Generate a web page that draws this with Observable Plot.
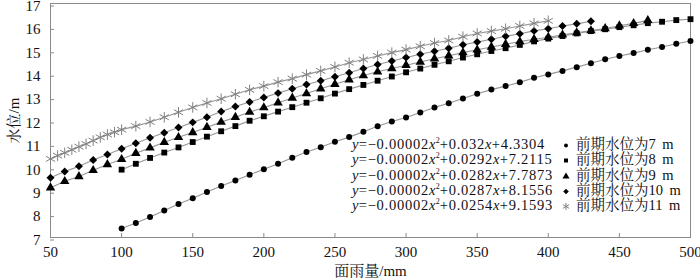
<!DOCTYPE html>
<html><head><meta charset="utf-8">
<script src="https://cdn.jsdelivr.net/npm/d3@7"></script>
<script src="https://cdn.jsdelivr.net/npm/@observablehq/plot@0.6"></script>
<style>
body{margin:0;background:#fff;}
#wrap{position:relative;width:700px;height:279px;}
#legend{position:absolute;left:352px;top:137px;font-family:'Liberation Serif','Noto Serif CJK SC',serif;font-size:14.5px;line-height:15.25px;color:#111;}
.row{position:relative;height:15.25px;white-space:nowrap;}
.eq{position:absolute;left:0;top:0;letter-spacing:0.75px;}
.eq i{letter-spacing:0.3px;}
.eq sup{font-size:8px;vertical-align:6px;line-height:0;letter-spacing:0;}
.mk{position:absolute;left:206px;top:1px;}
.lb{position:absolute;left:224px;top:0;font-family:'Liberation Serif','Noto Serif CJK SC',serif;font-size:14.5px;word-spacing:3px;}
</style>
</head><body>
<div id="wrap"><div id="chart"></div><div id="legend"></div></div>
<script>
// ---- data ----
const seriesNames = ["前期水位为7 m","前期水位为8 m","前期水位为9 m","前期水位为10 m","前期水位为11 m"];
const eqB = ["0.032","0.0292","0.0282","0.0287","0.0254"];
const eqC = ["4.3304","7.2115","7.7873","8.1556","9.1593"];

const x7 = [100,110,120,130,140,150,160,170,180,190,200,210,220,230,240,250,260,270,280,290,300,310,320,330,340,350,360,370,380,390,400,410,420,430,440,450,460,470,480,490,500];
const y7 = [7.38,7.62,7.88,8.15,8.43,8.68,8.94,9.20,9.44,9.68,9.92,10.15,10.41,10.65,10.86,11.09,11.29,11.52,11.75,11.96,12.13,12.34,12.56,12.74,12.94,13.14,13.32,13.47,13.63,13.83,13.97,14.12,14.28,14.45,14.62,14.76,14.88,15.02,15.14,15.28,15.40];

const x8 = [100,110,120,130,140,150,160,170,180,190,200,210,220,230,240,250,260,270,280,290,300,310,320,330,340,350,360,370,380,390,400,410,420,430,440,450,460,470,480,490,500];
const y8 = [9.90,10.15,10.40,10.63,10.85,11.08,11.31,11.54,11.76,11.99,12.18,12.38,12.57,12.76,12.95,13.15,13.34,13.52,13.70,13.88,14.06,14.22,14.38,14.53,14.69,14.83,14.97,15.09,15.23,15.38,15.50,15.61,15.72,15.82,15.90,15.99,16.07,16.16,16.22,16.29,16.33];

const x9 = [50,60,70,80,90,100,110,120,130,140,150,160,170,180,190,200,210,220,230,240,250,260,270,280,290,300,310,320,330,340,350,360,370,380,390,400,410,420,430,440,450,460,470];
const y9 = [9.13,9.40,9.61,9.87,10.12,10.34,10.60,10.83,11.07,11.28,11.49,11.71,11.93,12.14,12.36,12.55,12.76,12.96,13.15,13.36,13.55,13.74,13.92,14.08,14.22,14.36,14.50,14.64,14.77,14.90,15.02,15.14,15.26,15.37,15.47,15.56,15.66,15.75,15.84,15.93,16.05,16.15,16.28];

const x10 = [50,60,70,80,90,100,110,120,130,140,150,160,170,180,190,200,210,220,230,240,250,260,270,280,290,300,310,320,330,340,350,360,370,380,390,400,410,420,430];
const y10 = [9.55,9.82,10.04,10.31,10.55,10.79,11.03,11.26,11.48,11.70,11.92,12.14,12.38,12.60,12.79,12.98,13.17,13.36,13.54,13.70,13.87,14.04,14.22,14.39,14.54,14.69,14.83,14.96,15.09,15.24,15.35,15.47,15.60,15.71,15.83,15.92,16.04,16.13,16.24];

const x11 = [50,55,60,65,70,75,80,85,90,95,100,110,120,130,140,150,160,170,180,190,200,210,220,230,240,250,260,270,280,290,300,310,320,330,340,350,360,370,380,390,400];
const y11 = [10.36,10.50,10.62,10.75,10.88,11.00,11.14,11.28,11.40,11.50,11.61,11.76,11.94,12.14,12.35,12.56,12.75,12.93,13.12,13.31,13.47,13.64,13.79,13.96,14.12,14.29,14.47,14.61,14.76,14.90,15.03,15.17,15.31,15.42,15.58,15.72,15.82,15.92,16.04,16.15,16.26];

const xTicks = [50,100,150,200,250,300,350,400,450,500];
const yTicks = [7,8,9,10,11,12,13,14,15,16,17];

// ---- build table ----
const xs = [x7,x8,x9,x10,x11], ys = [y7,y8,y9,y10,y11];
const symbols = ["circle","square","triangle","diamond2","asterisk"];
const radii = [3,3.3,3.5,3.6,5];
const data = [];
xs.forEach((xa,i)=>xa.forEach((x,j)=>data.push({s:i,x,y:ys[i][j]})));

const font = "'Liberation Serif','Noto Serif CJK SC',serif";
const marks = [Plot.frame({stroke:"#8a8a8a"})];
for (let i=0;i<5;i++){
  const d = data.filter(r=>r.s===i);
  marks.push(Plot.line(d,{x:"x",y:"y",stroke:"#969696",strokeWidth:1.1}));
}
for (let i=0;i<5;i++){
  const d = data.filter(r=>r.s===i);
  if (i===4) marks.push(Plot.dot(d,{x:"x",y:"y",symbol:"asterisk",r:radii[i],stroke:"#808080",strokeWidth:1}));
  else marks.push(Plot.dot(d,{x:"x",y:"y",symbol:symbols[i],r:radii[i],fill:"#000",stroke:"none"}));
}
marks.push(Plot.axisX(xTicks,{tickSize:-4,tickPadding:13,stroke:"#8a8a8a",fontSize:15,fontFamily:font,label:"面雨量/mm",labelAnchor:"center",labelOffset:38,labelArrow:"none"}));
marks.push(Plot.axisY(yTicks,{tickSize:-4,tickPadding:14,stroke:"#8a8a8a",fontSize:15,fontFamily:font,dy:2.5,label:"水位/m",labelAnchor:"center",labelOffset:42,labelArrow:"none"}));

const chart = Plot.plot({
  width:700, height:279,
  marginLeft:50, marginRight:10, marginTop:3, marginBottom:42,
  x:{domain:[50,500]},
  y:{domain:[7,17]},
  style:{fontFamily:font,fontSize:"15px",color:"#111",background:"#fff",overflow:"visible"},
  marks
});
document.getElementById("chart").appendChild(chart);

// ---- legend (inside plot, lower right) ----
const leg = d3.select("#legend");
seriesNames.forEach((name,i)=>{
  const row = leg.append("div").attr("class","row");
  row.append("span").attr("class","eq")
    .html(`<i>y</i>=−0.00002<i>x</i><sup>2</sup>+${eqB[i]}<i>x</i>+${eqC[i]}`);
  const svg = row.append("svg").attr("class","mk").attr("width",16).attr("height",14);
  const sym = d3.symbol().type([d3.symbolCircle,d3.symbolSquare,d3.symbolTriangle,d3.symbolDiamond2,d3.symbolAsterisk][i]).size(i===4?36:[12,16,22,20][i])();
  svg.append("path").attr("d",sym).attr("transform","translate(8,7.5)")
    .attr("fill",i===4?"none":"#000").attr("stroke",i===4?"#808080":"none");
  row.append("span").attr("class","lb").text(name);
});
</script>
</body></html>
